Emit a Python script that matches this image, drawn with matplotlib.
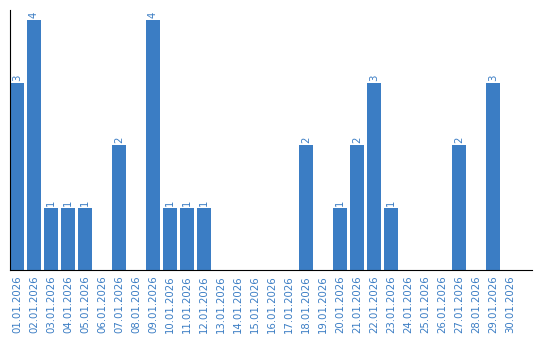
import numpy as np
import matplotlib.pyplot as plt

dates = ["%02d.01.2026" % d for d in range(1, 31)]
counts = [3, 4, 1, 1, 1, 0, 2, 0, 4, 1, 1, 1, 0, 0, 0, 0, 0, 2, 0, 1,
          2, 3, 1, 0, 0, 0, 2, 0, 3, 0]

blue = "#3b7dc4"

fig = plt.figure(figsize=(5.4, 3.4), dpi=100)
ax = fig.add_axes([10/540, 70/340, 522/540, 260/340])

x = np.arange(len(dates))
ax.bar(x, counts, width=0.82, color=blue)
for xi, c in zip(x, counts):
    if c > 0:
        ax.text(xi, c + 0.03, str(c), rotation=90, ha="center", va="bottom",
                color=blue, fontsize=7.3)

ax.set_xlim(-0.41, 30.3)
ax.set_ylim(0, 4.16)
ax.set_xticks(x)
ax.set_xticklabels(dates, rotation=90, color=blue, fontsize=7.3)
ax.tick_params(axis="x", length=0, pad=4)
ax.set_yticks([])
for s in ["top", "right"]:
    ax.spines[s].set_visible(False)

fig.savefig("out.png", dpi=100)
